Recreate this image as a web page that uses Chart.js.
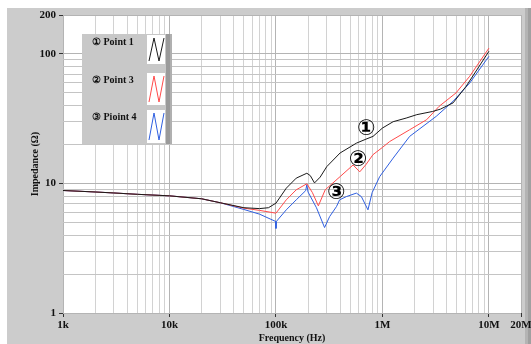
<!DOCTYPE html>
<html>
<head>
<meta charset="utf-8">
<script src="https://cdn.jsdelivr.net/npm/chart.js@4/dist/chart.umd.min.js"></script>
<style>
  html, body { margin: 0; padding: 0; background: #fff; }
</style>
</head>
<body>
<canvas id="impChart" width="531" height="344"></canvas>
<script>
// Point 1 (black)
const p1Freq = [1000, 2000, 3000, 5000, 10000, 20000, 30000, 50000, 70000, 85000, 100000, 125000, 155000, 195000, 210000, 230000, 260000, 300000, 400000, 570000, 700000, 815000, 1000000, 1260000, 1670000, 2100000, 2960000, 3500000, 4600000, 6100000, 8100000, 10000000];
const p1Imp  = [8.83, 8.6, 8.45, 8.25, 8.03, 7.62, 7.1, 6.5, 6.4, 6.5, 7.05, 9.2, 11.0, 12.0, 11.5, 10.1, 11.2, 13.5, 17.2, 20.5, 22.0, 23.1, 26.8, 30.0, 32.0, 34.0, 36.0, 37.5, 41.9, 56.2, 80.4, 105];
// Point 3 (red)
const p3Freq = [1000, 2000, 3000, 5000, 10000, 20000, 30000, 50000, 70000, 100000, 125000, 155000, 195000, 220000, 250000, 290000, 400000, 530000, 612000, 700000, 815000, 1000000, 1170000, 1800000, 2600000, 3400000, 4900000, 6600000, 10000000];
const p3Imp  = [8.83, 8.6, 8.45, 8.25, 8.03, 7.62, 7.1, 6.45, 6.2, 5.9, 7.48, 8.94, 9.95, 8.5, 6.72, 8.94, 11.3, 13.9, 12.3, 14.0, 16.7, 19.0, 21.1, 26.0, 31.1, 39.4, 50.0, 67.3, 111];
// Pioint 4 (blue)
const p4Freq = [1000, 2000, 3000, 5000, 10000, 20000, 30000, 50000, 70000, 99000, 100000, 101000, 125000, 155000, 190000, 195000, 200000, 240000, 286000, 319000, 370000, 396000, 458000, 569000, 634000, 731000, 800000, 942000, 1260000, 1800000, 3200000, 4600000, 6600000, 10000000];
const p4Imp  = [8.83, 8.6, 8.45, 8.25, 8.03, 7.62, 7.1, 6.3, 5.8, 5.1, 4.5, 5.1, 6.26, 7.48, 8.8, 9.8, 8.6, 6.5, 4.57, 5.55, 6.63, 7.48, 7.92, 8.43, 7.92, 6.26, 8.5, 11.3, 15.7, 23.1, 33.0, 43.1, 59.7, 96];

const seriesNames = ['\u2460 Point 1', '\u2461 Point 3', '\u2462 Pioint 4'];
const seriesColors = ['#1a1a1a', '#ff4a4a', '#2f5fe0'];

const xTickValues = [1e3, 1e4, 1e5, 1e6, 1e7, 2e7];
const xTickLabels = ['1k', '10k', '100k', '1M', '10M', '20M'];
const yTickValues = [1, 10, 100, 200];
const yTickLabels = ['1', '10', '100', '200'];

// circled markers next to the curves: [freq, impedance, text]
const markers = [[706000, 26.2, '\u2460'], [590000, 15.2, '\u2461'], [369000, 8.35, '\u2462']];

function toPoints(fs, zs) {
  return fs.map((f, i) => ({ x: f, y: zs[i] }));
}

function gridValues(lo, hi) {
  const vals = [];
  for (let d = lo; d < hi; d *= 10) {
    for (let m = 1; m < 10; m++) {
      if (d * m <= hi) vals.push(d * m);
    }
  }
  if (vals[vals.length - 1] !== hi) vals.push(hi);
  return vals;
}

const serif = '"Liberation Serif", "DejaVu Serif", serif';

const panelPlugin = {
  id: 'panel',
  beforeDraw(chart) {
    const ctx = chart.ctx;
    const a = chart.chartArea;
    ctx.save();
    ctx.fillStyle = '#ffffff';
    ctx.fillRect(0, 0, chart.width, chart.height);
    ctx.fillStyle = '#cccccc';
    ctx.fillRect(7, 8, chart.width - 7, chart.height - 8);
    ctx.fillStyle = '#b4b4b4';
    ctx.fillRect(525, 8, 6, chart.height - 8);
    ctx.fillStyle = '#a0a0a0';
    ctx.fillRect(528, 8, 3, chart.height - 8);
    ctx.fillStyle = '#ffffff';
    ctx.fillRect(a.left, a.top, a.right - a.left, a.bottom - a.top);
    ctx.restore();
  },
  afterDraw(chart) {
    const ctx = chart.ctx;
    const xs = chart.scales.x, ys = chart.scales.y;
    ctx.save();
    // circled numbers
    ctx.fillStyle = '#000';
    ctx.font = 'bold 22px "DejaVu Sans", sans-serif';
    ctx.textAlign = 'center';
    ctx.textBaseline = 'middle';
    markers.forEach(m => {
      ctx.fillText(m[2], xs.getPixelForValue(m[0]), ys.getPixelForValue(m[1]));
    });

    // legend box
    const bx = 82, by = 34, bw = 84, bh = 110;
    ctx.fillStyle = '#c8c8c8';
    ctx.fillRect(bx, by, bw + 6, bh);
    ctx.fillStyle = '#9a9a9a';
    ctx.fillRect(bx + bw, by, 6, bh);
    ctx.fillStyle = '#b0b0b0';
    ctx.fillRect(bx + bw + 4, by, 2, bh);
    const rowTop = [35, 73, 110];
    const rowH = [29, 32, 33];
    const textY = [42, 80, 117];
    seriesNames.forEach((name, i) => {
      ctx.fillStyle = '#111';
      ctx.font = 'bold 10px ' + serif;
      ctx.textAlign = 'left';
      ctx.textBaseline = 'middle';
      ctx.fillText(name, 92, textY[i]);
      const sx = 147, sw = 18, sy = rowTop[i], sh = rowH[i];
      ctx.fillStyle = '#ffffff';
      ctx.fillRect(sx, sy, sw, sh);
      ctx.strokeStyle = seriesColors[i];
      ctx.lineWidth = 1;
      ctx.beginPath();
      ctx.moveTo(sx + 2, sy + sh - 3);
      ctx.lineTo(sx + 7, sy + 3);
      ctx.lineTo(sx + 12, sy + sh - 3);
      ctx.lineTo(sx + 17, sy + 3);
      ctx.stroke();
    });
    ctx.restore();
  }
};

function fixedTicks(values) {
  return function (scale) {
    scale.ticks = values.map(v => ({ value: v }));
  };
}

const ctx = document.getElementById('impChart').getContext('2d');
const chart = new Chart(ctx, {
  type: 'line',
  data: {
    datasets: [
      { label: seriesNames[0], data: toPoints(p1Freq, p1Imp), borderColor: seriesColors[0] },
      { label: seriesNames[1], data: toPoints(p3Freq, p3Imp), borderColor: seriesColors[1] },
      { label: seriesNames[2], data: toPoints(p4Freq, p4Imp), borderColor: seriesColors[2] },
    ],
  },
  options: {
    responsive: false,
    animation: false,
    devicePixelRatio: 1,
    layout: { padding: { left: 0, right: 10, top: 15, bottom: 0 } },
    elements: {
      line: { borderWidth: 1, tension: 0 },
      point: { radius: 0 },
    },
    plugins: {
      legend: { display: false },
      tooltip: { enabled: false },
    },
    scales: {
      x: {
        type: 'logarithmic',
        min: 1000,
        max: 2e7,
        afterBuildTicks: fixedTicks(gridValues(1000, 2e7)),
        afterFit(scale) {
          scale.height = 31;
          scale.paddingLeft = 0;
          scale.paddingRight = 0;
        },
        border: { display: false },
        grid: {
          color: ctx => xTickValues.includes(ctx.tick.value) ? '#b4b4b4' : '#d2d2d2',
          tickColor: ctx => xTickValues.includes(ctx.tick.value) ? '#333' : 'rgba(0,0,0,0)',
          tickLength: 4,
        },
        ticks: {
          autoSkip: false,
          maxRotation: 0,
          padding: 2,
          color: '#111',
          font: { family: serif, size: 11, weight: 'bold' },
          callback: v => {
            const i = xTickValues.indexOf(v);
            return i >= 0 ? xTickLabels[i] : '';
          },
        },
        title: {
          display: true,
          text: 'Frequency (Hz)',
          color: '#111',
          font: { family: serif, size: 10, weight: 'bold' },
          padding: { top: 0, bottom: 0 },
        },
      },
      y: {
        type: 'logarithmic',
        min: 1,
        max: 200,
        afterBuildTicks: fixedTicks(gridValues(1, 200)),
        afterFit(scale) {
          scale.width = 63;
          scale.paddingTop = 0;
          scale.paddingBottom = 0;
        },
        border: { display: false },
        grid: {
          color: ctx => yTickValues.includes(ctx.tick.value) ? '#b4b4b4' : '#c4c4c4',
          tickColor: ctx => yTickValues.includes(ctx.tick.value) ? '#333' : 'rgba(0,0,0,0)',
          tickLength: 4,
        },
        ticks: {
          autoSkip: false,
          padding: 3,
          color: '#111',
          font: { family: serif, size: 11, weight: 'bold' },
          callback: v => {
            const i = yTickValues.indexOf(v);
            return i >= 0 ? yTickLabels[i] : '';
          },
        },
        title: {
          display: true,
          text: 'Impedance (\u03A9)',
          color: '#111',
          font: { family: serif, size: 10, weight: 'bold' },
          padding: { top: 29, bottom: 0 },
        },
      },
    },
  },
  plugins: [panelPlugin],
});
</script>
</body>
</html>
